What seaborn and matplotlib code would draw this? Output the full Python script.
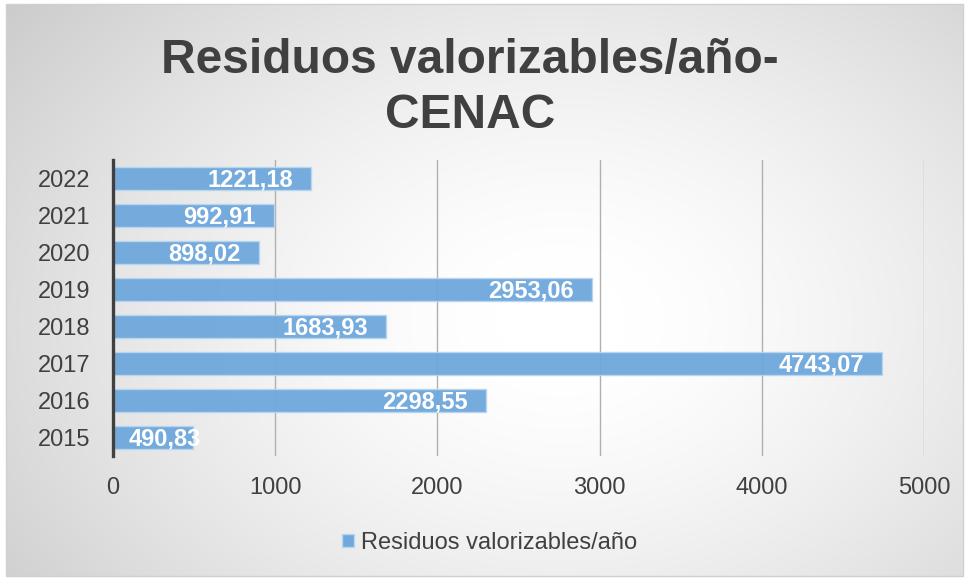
import numpy as np
import pandas as pd
import matplotlib
matplotlib.use("Agg")
import matplotlib.pyplot as plt
import seaborn as sns

# datos
anios = ['2022', '2021', '2020', '2019', '2018', '2017', '2016', '2015']
valores = [1221.18, 992.91, 898.02, 2953.06, 1683.93, 4743.07, 2298.55, 490.83]
etiquetas = ['1221,18', '992,91', '898,02', '2953,06', '1683,93', '4743,07', '2298,55', '490,83']
serie = 'Residuos valorizables/año'
titulo_1 = 'Residuos valorizables/año-'
titulo_2 = 'CENAC'
xticks = [0, 1000, 2000, 3000, 4000, 5000]

df = pd.DataFrame({'Año': anios, 'Valor': valores, 'Serie': serie})

sns.set_theme(style='white')
plt.rcParams['font.family'] = ['Liberation Sans', 'DejaVu Sans']

W, H = 969, 580
fig = plt.figure(figsize=(W / 100, H / 100), dpi=100)
fig.patch.set_facecolor('white')

# fondo con degradado radial
bg = fig.add_axes([0, 0, 1, 1], zorder=-10)
yy, xx = np.mgrid[0:H, 0:W]
r = np.sqrt(((xx - 560) / 440.0) ** 2 + ((yy - 320) / 320.0) ** 2)
g = np.clip(1 - 0.12 * np.clip(r - 0.15, 0, None) ** 1.4, 0, 1)
img = np.dstack([g, g, g])
img[:4, :, :] = 1
img[576:, :, :] = 1
img[:, :6, :] = 1
img[:, 963:, :] = 1
bg.imshow(img, extent=[0, W, H, 0], aspect='auto', interpolation='bilinear')
bg.plot([6, 963, 963, 6, 6], [4, 4, 576, 576, 4], color='#d0d0d0', lw=1)
bg.set_xlim(0, W)
bg.set_ylim(H, 0)
bg.axis('off')

ax = fig.add_axes([113 / W, 1 - 456 / H, (924 - 113) / W, (456 - 160) / H])
ax.patch.set_alpha(0)

sns.barplot(data=df, x='Valor', y='Año', order=anios, hue='Serie',
            palette=['#6fa8dc'], saturation=1, width=0.6, orient='h', ax=ax,
            edgecolor='#b9d6f0', linewidth=1, alpha=0.95, legend=False)

ax.set_xlim(0, 5000)
ax.set_xticks(xticks)
ax.set_xticklabels([str(t) for t in xticks])
ax.grid(axis='x', color='#b0b0b0', lw=1)
ax.grid(axis='y', visible=False)
ax.set_axisbelow(True)
for s in ['top', 'right', 'bottom']:
    ax.spines[s].set_visible(False)
ax.spines['left'].set_color('#404040')
ax.spines['left'].set_linewidth(2.4)
ax.spines['left'].set_zorder(5)
ax.tick_params(axis='both', length=0, labelsize=17, colors='#404040')
ax.tick_params(axis='y', pad=16)
ax.tick_params(axis='x', pad=15)
ax.set_xlabel('')
ax.set_ylabel('')

# etiquetas de datos
for i, (v, t) in enumerate(zip(valores, etiquetas)):
    if v > 800:
        ax.annotate(t, (v, i), xytext=(-13, -1), textcoords='offset points',
                    ha='right', va='center', color='white', fontsize=17,
                    fontweight='bold')
    else:
        ax.annotate(t, (0, i), xytext=(11, -1), textcoords='offset points',
                    ha='left', va='center', color='white', fontsize=17,
                    fontweight='bold')

fig.text(470 / W, 1 - 73 / H, titulo_1, ha='center', va='baseline',
         fontsize=34.5, fontweight='bold', color='#404040')
fig.text(470 / W, 1 - 128 / H, titulo_2, ha='center', va='baseline',
         fontsize=34.5, fontweight='bold', color='#404040')

h = plt.Rectangle((0, 0), 1, 1, facecolor='#6fa8dc', edgecolor='#b9d6f0')
fig.legend([h], [serie], loc='center', bbox_to_anchor=(490 / W, 1 - 543 / H),
           frameon=False, fontsize=17, handlelength=0.5, handleheight=0.5,
           handletextpad=0.3, labelcolor='#404040')

fig.savefig('out.png', dpi=100)
